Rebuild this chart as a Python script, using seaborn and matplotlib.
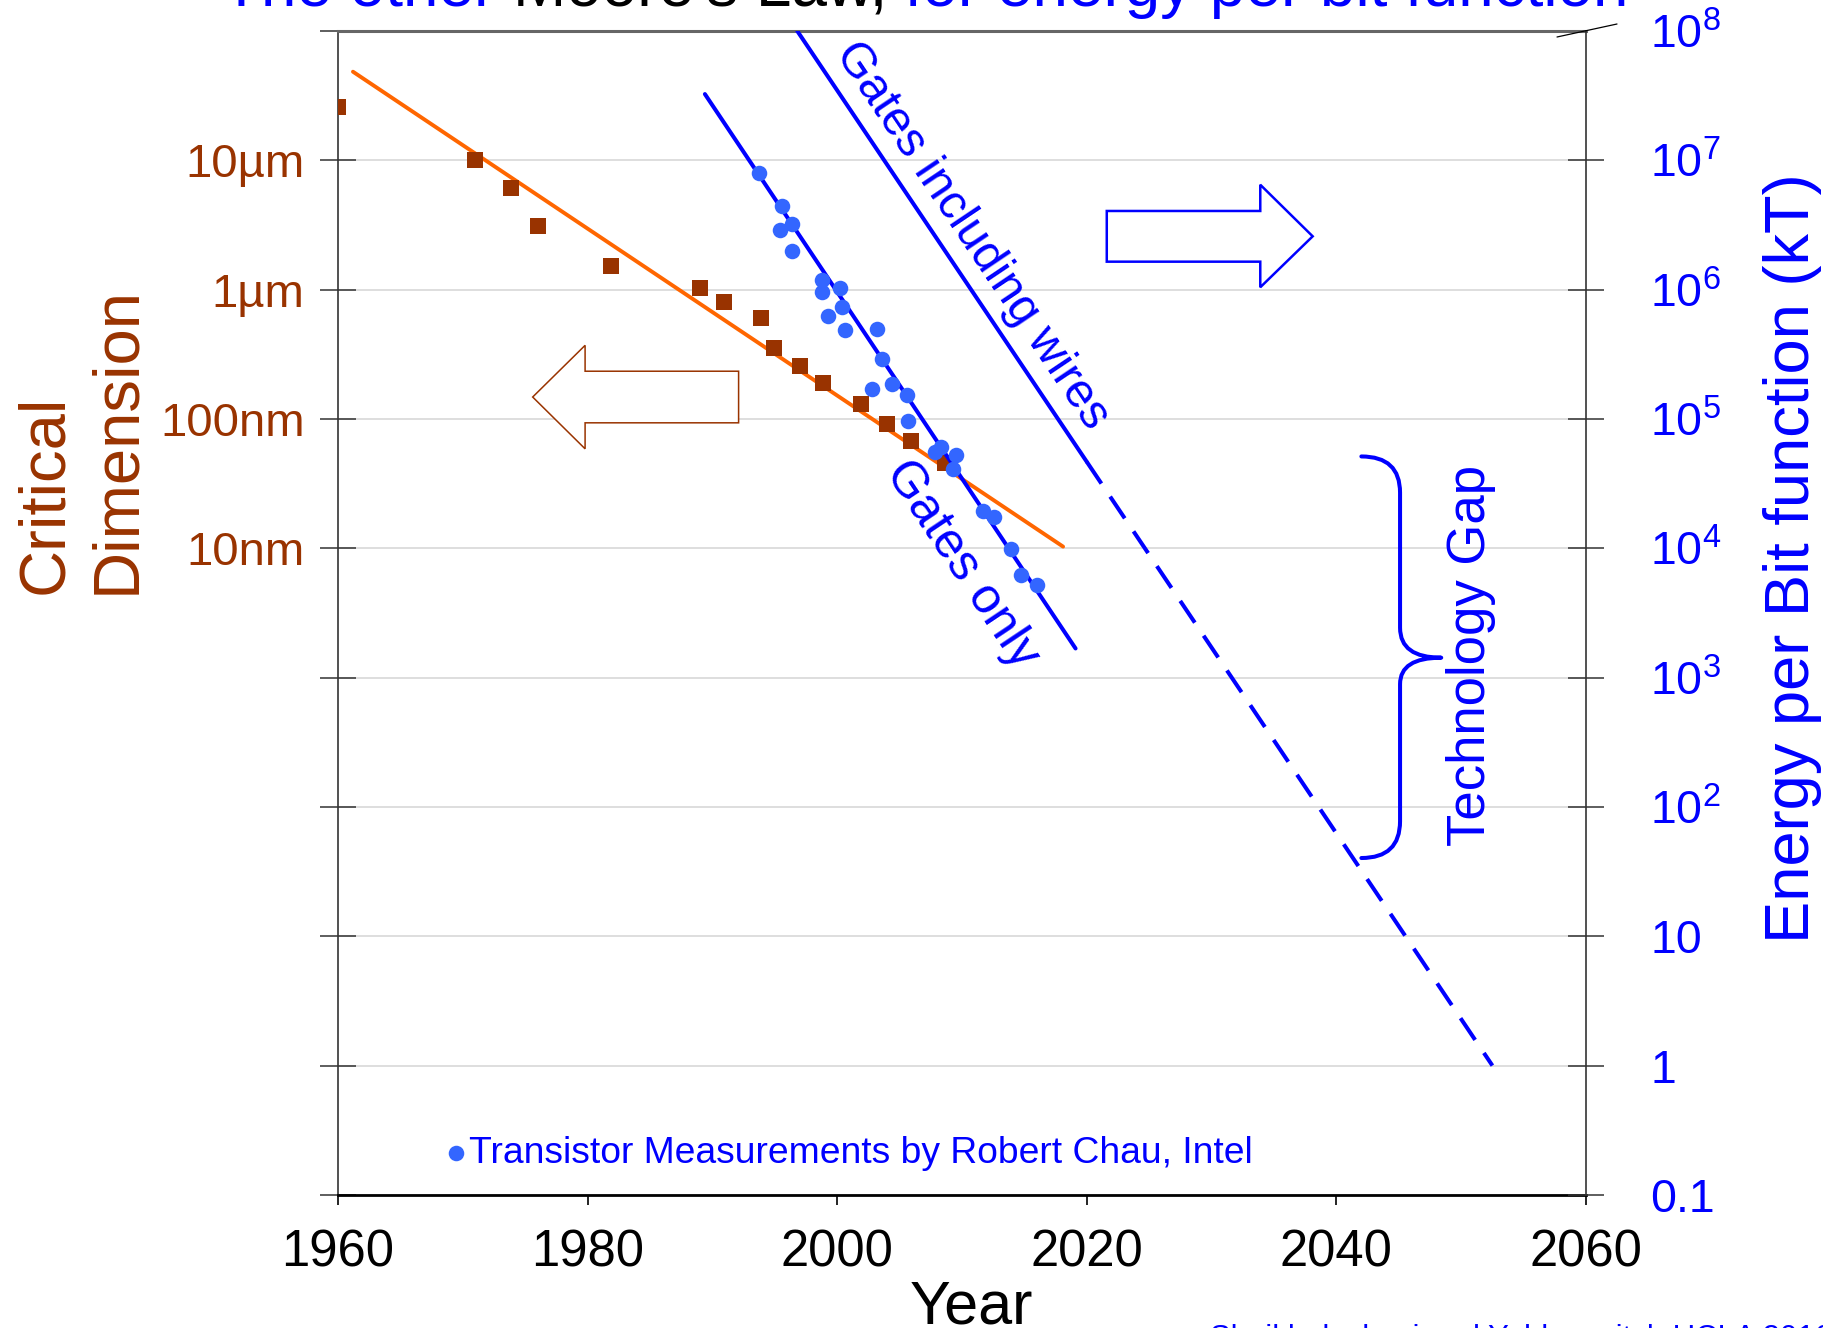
#moore_energy.py -> critical dimension + energy per bit vs year

import numpy as np
import matplotlib
matplotlib.use("Agg")
import matplotlib.pyplot as plt
import seaborn as sns
from matplotlib.patches import Polygon, PathPatch
from matplotlib.path import Path
from matplotlib.lines import Line2D

#critical dimension (brown squares), nm
cd_year = [1960.0, 1971.0, 1973.9, 1976.0, 1981.9, 1989.0, 1990.9, 1993.9,
           1994.9, 1997.0, 1998.9, 2001.9, 2004.0, 2005.9, 2008.6]
cd_nm = [25600, 10100, 6150, 3130, 1530, 1035, 805, 608,
         356, 257, 188, 131, 92, 67, 46]
#orange trend for critical dimension
cd_trend_year = [1961.2, 2018.1]
cd_trend_nm = [48400, 10.3]

#transistor measurements by Robert Chau, Intel (kT)
chau_year = [1993.7, 1995.6, 1995.4, 1996.4, 1996.4, 1998.8, 1998.8, 2000.2,
             2000.4, 1999.3, 2000.6, 2003.2, 2003.6, 2004.4, 2002.8, 2005.6,
             2005.7, 2007.8, 2008.3, 2009.5, 2009.3, 2011.7, 2012.6, 2013.9,
             2014.7, 2016.0]
chau_kT = [8.0e6, 4.4e6, 2.9e6, 3.2e6, 2.0e6, 1.19e6, 9.5e5, 1.02e6,
           7.4e5, 6.2e5, 4.85e5, 5.0e5, 2.9e5, 1.85e5, 1.71e5, 1.54e5,
           9.7e4, 5.6e4, 6.1e4, 5.3e4, 4.1e4, 1.95e4, 1.74e4, 9.9e3,
           6.2e3, 5.2e3]

#trend lines (kT)
gates_year = [1989.4, 2019.1]
gates_kT = [3.25e7, 1.68e3]
wires_year = [1996.8, 2020.0]
wires_kT = [1.0e8, 4.66e4]
wires_proj_year = [2020.0, 2052.5]
wires_proj_kT = [4.66e4, 1.0]

year_ticks = [1960, 1980, 2000, 2020, 2040, 2060]
nm_ticks = [1e-4, 1e-3, 1e-2, 1e-1, 1, 10, 100, 1000, 1e4, 1e5]
nm_labels = ["", "", "", "", "", "10nm", "100nm", "1µm", "10µm", ""]
kT_ticks = [0.1, 1, 10, 1e2, 1e3, 1e4, 1e5, 1e6, 1e7, 1e8]
kT_labels = ["0.1", "1", "10"] + [r"$\mathregular{10^{%d}}$" % k for k in range(2, 9)]

title_parts = ["The other ", "Moore's Law,", " for energy per bit function"]

BROWN = "#993300"
ORANGE = "#FF6600"
BLUE = "#0000FF"
DOT = "#3366FF"

sns.set_theme(style="white")
plt.rcParams["font.family"] = ["Liberation Sans", "DejaVu Sans"]
plt.rcParams["mathtext.fontset"] = "custom"
plt.rcParams["mathtext.rm"] = "Liberation Sans"

fig = plt.figure(figsize=(18.23, 13.28), dpi=100)
ax = fig.add_axes([0.1854, 0.1002, 0.6846, 0.8765])
ax.set_yscale("log")
ax.set_xlim(1960, 2060)
ax.set_ylim(1e-4, 1e5)
ax2 = ax.twinx()
ax2.set_yscale("log")
ax2.set_ylim(0.1, 1e8)

#left axis: critical dimension
sns.lineplot(x=cd_trend_year, y=cd_trend_nm, color=ORANGE, lw=2.8, ax=ax)
sns.scatterplot(x=cd_year, y=cd_nm, marker="s", color=BROWN, s=125,
                linewidth=0, ax=ax, zorder=3)

#right axis: energy per bit
sns.lineplot(x=gates_year, y=gates_kT, color=BLUE, lw=2.9, ax=ax2)
sns.lineplot(x=wires_year, y=wires_kT, color=BLUE, lw=2.9, ax=ax2)
sns.lineplot(x=wires_proj_year, y=wires_proj_kT, color=BLUE, lw=2.9,
             ls=(0, (6.5, 3.9)), ax=ax2)
sns.scatterplot(x=chau_year, y=chau_kT, color=DOT, s=125, linewidth=0,
                ax=ax2, zorder=4, label="Transistor Measurements by Robert Chau, Intel")

#ticks / labels
ax.set_xticks(year_ticks)
ax.set_xticklabels([str(y) for y in year_ticks])
ax.set_yticks(nm_ticks)
ax.set_yticklabels(nm_labels)
ax.minorticks_off()
ax.set_xlabel("")
ax.set_ylabel("")
ax.tick_params(axis="x", direction="out", length=7, width=1.2, color="black",
               labelsize=36.5, labelcolor="black", pad=17, bottom=True)
ax.tick_params(axis="y", direction="inout", length=26.6, width=1.1, color="#333333",
               labelsize=34, labelcolor=BROWN, pad=10.8, left=True)
ax.yaxis.grid(True, color="#d4d4d4", lw=1.1)
ax.xaxis.grid(False)

ax2.set_yticks(kT_ticks)
ax2.set_yticklabels(kT_labels)
ax2.minorticks_off()
ax2.set_ylabel("")
ax2.tick_params(axis="y", direction="inout", length=26.6, width=1.1, color="#333333",
                labelsize=33.5, labelcolor=BLUE, pad=32.8, right=True)
ax2.yaxis.get_major_ticks()[-1].tick2line.set_visible(False)

for side in ["top", "bottom", "left"]:
    ax2.spines[side].set_visible(False)
ax.spines["right"].set_visible(False)
ax.spines["left"].set_color("#333333")
ax.spines["left"].set_linewidth(1.2)
ax2.spines["right"].set_color("#333333")
ax2.spines["right"].set_linewidth(1.2)
ax.spines["top"].set_color("#666666")
ax.spines["top"].set_linewidth(2.2)
ax.spines["bottom"].set_color("black")
ax.spines["bottom"].set_linewidth(2.0)

#legend for the measurements
ax2.legend(loc="center left", bbox_to_anchor=(0.0857, 0.036), frameon=False,
           fontsize=26.8, labelcolor=BLUE, handlelength=0.6, handletextpad=0.05,
           borderpad=0, borderaxespad=0)

#outline arrows pointing at each axis
def arrow_poly(x_tail, x_base, x_tip, body_lo, body_hi, head_lo, head_hi):
    mid = (body_lo + body_hi) / 2
    pts = [(x_tail, body_hi), (x_base, body_hi), (x_base, head_hi), (x_tip, mid),
           (x_base, head_lo), (x_base, body_lo), (x_tail, body_lo)]
    return [(x, 10 ** y) for x, y in pts]

ax2.add_patch(Polygon(arrow_poly(2021.6, 2033.9, 2038.1, 6.216, 6.608, 6.018, 6.811),
                      closed=True, fc="white", ec=BLUE, lw=1.8, zorder=5))
ax2.add_patch(Polygon(arrow_poly(1992.1, 1979.8, 1975.6, 4.970, 5.369, 4.769, 5.569),
                      closed=True, fc="white", ec=BROWN, lw=1.1, zorder=5))

#technology gap brace
xe, xv, xt = 2042.0, 2045.1, 2048.4
verts = [(xe, 4.71), (xv, 4.71), (xv, 4.43), (xv, 3.385), (xv, 3.154), (xt, 3.154),
         (xv, 3.154), (xv, 2.95), (xv, 1.89), (xv, 1.605), (xe, 1.605)]
codes = [Path.MOVETO, Path.CURVE3, Path.CURVE3, Path.LINETO, Path.CURVE3, Path.CURVE3,
         Path.CURVE3, Path.CURVE3, Path.LINETO, Path.CURVE3, Path.CURVE3]
brace = Path([(x, 10 ** y) for x, y in verts], codes)
ax2.add_patch(PathPatch(brace, fc="none", ec=BLUE, lw=2.9, capstyle="round",
                        joinstyle="round", transform=ax2.transData))
ax2.text(2050.8, 10 ** 3.171, "Technology Gap", rotation=90, ha="center", va="center",
         fontsize=38, color=BLUE)

#rotated labels along the trend lines
def line_angle(xs, ys):
    p = ax2.transData.transform(list(zip(xs, ys)))
    return np.degrees(np.arctan2(p[1, 1] - p[0, 1], p[1, 0] - p[0, 0]))

ax2.text(2010.75, 10 ** 6.42, "Gates including wires", color=BLUE, fontsize=34.5,
         rotation=line_angle(wires_year, wires_kT), rotation_mode="anchor",
         ha="center", va="center")
ax2.text(2010.0, 10 ** 3.874, "Gates only", color=BLUE, fontsize=36,
         rotation=line_angle(gates_year, gates_kT), rotation_mode="anchor",
         ha="center", va="center")

#axis titles
fig.text(81 / 1823, 1 - 594 / 1328, "Critical\nDimension", rotation=90, ha="center",
         va="bottom", multialignment="left", fontsize=47, color=BROWN, linespacing=1.25)
fig.text(1792 / 1823, 1 - 558 / 1328, "Energy per Bit function (kT)", rotation=90,
         ha="center", va="center", fontsize=45.5, color=BLUE)
fig.text(971 / 1823, 5 / 1328, "Year", ha="center", va="baseline", fontsize=44,
         color="black")

#small slanted mark at the top-right corner
fig.add_artist(Line2D([1557 / 1823, 1617 / 1823], [1 - 37 / 1328, 1 - 24 / 1328],
                      color="black", lw=0.9))

#multi-coloured title, cut off at the top edge
renderer = fig.canvas.get_renderer()
def text_w(s):
    a = fig.text(0, 0, s + "|", fontsize=46)
    b = fig.text(0, 0, "|", fontsize=46)
    w = a.get_window_extent(renderer).width - b.get_window_extent(renderer).width
    a.remove()
    b.remove()
    return w

x0 = 222
for part, col in zip(title_parts, [BLUE, "black", BLUE]):
    fig.text(x0 / 1823, 1 - 6 / 1328, part, fontsize=46, color=col, ha="left",
             va="baseline")
    x0 += text_w(part)

#credit line, mostly below the bottom edge
fig.text(1210 / 1823, -19 / 1328, "Sheikholeslami and Yablonovitch UCLA 2016",
         fontsize=22.4, color=BLUE, ha="left", va="baseline")

fig.savefig("out.png", dpi=100)
plt.close(fig)
